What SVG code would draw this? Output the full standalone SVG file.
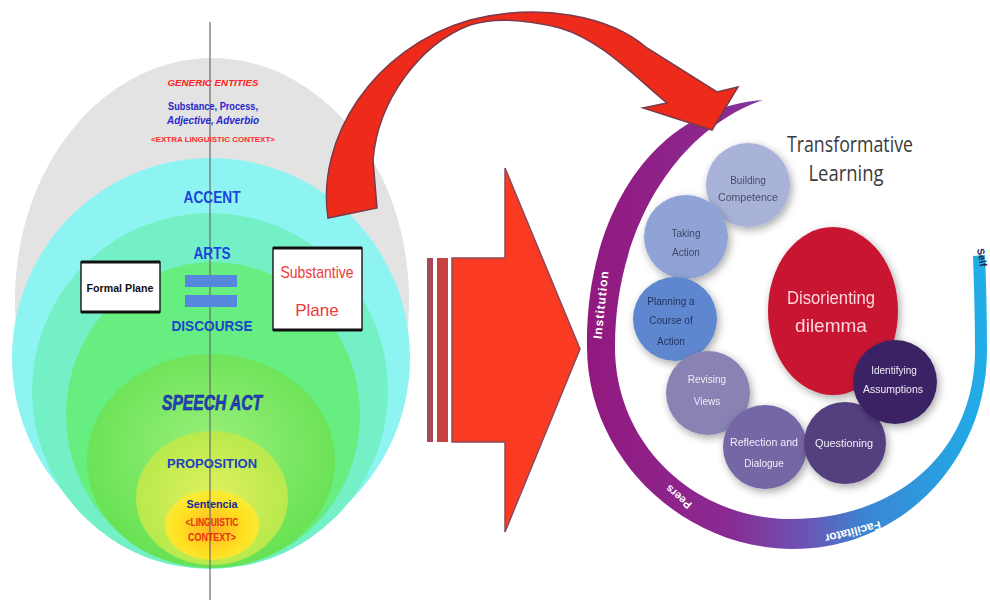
<svg xmlns="http://www.w3.org/2000/svg" width="990" height="601" viewBox="0 0 990 601">
<defs>
  <style>
    .lt{font-family:"Liberation Sans",Arial,sans-serif;font-weight:bold;text-anchor:middle}
    .nd{font-family:"Liberation Sans",Arial,sans-serif;font-size:10px;text-anchor:middle}
    .ring{font-family:"Liberation Sans",Arial,sans-serif;font-weight:bold;fill:#ffffff;text-anchor:middle}
    .box{fill:#ffffff;stroke:#222;stroke-width:1.5}
  </style>
  <radialGradient id="g5" cx="0.5" cy="0.45" r="0.6">
    <stop offset="0" stop-color="#9af07a"/>
    <stop offset="1" stop-color="#62e050"/>
  </radialGradient>
  <radialGradient id="g6" cx="0.5" cy="0.5" r="0.6">
    <stop offset="0" stop-color="#e2f060"/>
    <stop offset="1" stop-color="#b0e848"/>
  </radialGradient>
  <radialGradient id="g7" cx="0.5" cy="0.55" r="0.6">
    <stop offset="0" stop-color="#ffb020"/>
    <stop offset="0.6" stop-color="#ffe020"/>
    <stop offset="1" stop-color="#f4f040"/>
  </radialGradient>
  <linearGradient id="ringg" x1="587" y1="0" x2="987" y2="0" gradientUnits="userSpaceOnUse">
    <stop offset="0" stop-color="#92197e"/>
    <stop offset="0.35" stop-color="#8a2a92"/>
    <stop offset="0.55" stop-color="#6a55b4"/>
    <stop offset="0.7" stop-color="#3a86d4"/>
    <stop offset="1" stop-color="#20aee8"/>
  </linearGradient>
  <filter id="sh" x="-30%" y="-30%" width="160%" height="160%">
    <feGaussianBlur in="SourceAlpha" stdDeviation="4"/>
    <feOffset dx="2" dy="3"/>
    <feComponentTransfer><feFuncA type="linear" slope="0.35"/></feComponentTransfer>
    <feMerge><feMergeNode/><feMergeNode in="SourceGraphic"/></feMerge>
  </filter>
</defs>
<rect x="0" y="0" width="990" height="601" fill="#ffffff"/>

<!-- Left nested ellipses -->
<g id="left-model">
  <ellipse cx="212" cy="300" rx="197" ry="242" fill="#e3e3e3"/>
  <ellipse cx="211" cy="358" rx="199" ry="200" fill="#8ef4f2"/>
  <ellipse cx="210" cy="391" rx="178" ry="178" fill="#74f0c6"/>
  <ellipse cx="213" cy="415" rx="147" ry="153" fill="#66ee80"/>
  <ellipse cx="211" cy="461" rx="124" ry="107" fill="url(#g5)"/>
  <ellipse cx="212" cy="498" rx="76" ry="67" fill="url(#g6)"/>
  <ellipse cx="212" cy="525" rx="47" ry="35" fill="url(#g7)"/>
  <line x1="210" y1="22" x2="210" y2="600" stroke="#6a6a6a" stroke-width="1.2"/>
</g>

<g id="left-labels">
  <text class="lt" x="213" y="86" font-size="9" font-style="italic" fill="#ff2222" textLength="91" lengthAdjust="spacingAndGlyphs">GENERIC ENTITIES</text>
  <text class="lt" x="213" y="110" font-size="10" fill="#2626cc" textLength="90" lengthAdjust="spacingAndGlyphs">Substance, Process,</text>
  <text class="lt" x="213" y="124" font-size="10" font-style="italic" fill="#2626cc" textLength="92" lengthAdjust="spacingAndGlyphs">Adjective, Adverbio</text>
  <text class="lt" x="213" y="142" font-size="8" fill="#ff2a2a" textLength="124" lengthAdjust="spacingAndGlyphs">&lt;EXTRA LINGUISTIC CONTEXT&gt;</text>
  <text class="lt" x="212" y="203" font-size="16" fill="#1a46dd" textLength="57" lengthAdjust="spacingAndGlyphs">ACCENT</text>
  <text class="lt" x="212" y="259" font-size="16" fill="#1a46dd" textLength="37" lengthAdjust="spacingAndGlyphs">ARTS</text>
  <rect x="185" y="275" width="52" height="12" fill="#5588dd"/>
  <rect x="185" y="295" width="52" height="12" fill="#5588dd"/>
  <text class="lt" x="212" y="331" font-size="15" fill="#1a46cc" textLength="81" lengthAdjust="spacingAndGlyphs">DISCOURSE</text>
  <text class="lt" x="212" y="410" font-size="22" font-style="italic" fill="#2244cc" stroke="#112266" stroke-width="0.6" textLength="100" lengthAdjust="spacingAndGlyphs">SPEECH ACT</text>
  <text class="lt" x="212" y="468" font-size="13" fill="#2040c0" textLength="90" lengthAdjust="spacingAndGlyphs">PROPOSITION</text>
  <text class="lt" x="212" y="508" font-size="11" fill="#1a2a99" textLength="51" lengthAdjust="spacingAndGlyphs">Sentencia</text>
  <text class="lt" x="212" y="526" font-size="10" fill="#e83010" textLength="53" lengthAdjust="spacingAndGlyphs">&lt;LINGUISTIC</text>
  <text class="lt" x="212" y="541" font-size="10" fill="#e83010" textLength="48" lengthAdjust="spacingAndGlyphs">CONTEXT&gt;</text>
</g>

<g id="formal-plane">
  <rect class="box" x="81" y="262" width="79" height="50"/>
  <line x1="81" y1="262" x2="160" y2="262" stroke="#111" stroke-width="3"/>
  <line x1="81" y1="312" x2="160" y2="312" stroke="#111" stroke-width="3"/>
  <text class="lt" x="120" y="292" font-size="11" fill="#111" textLength="67" lengthAdjust="spacingAndGlyphs">Formal Plane</text>
</g>

<g id="substantive-plane">
  <rect class="box" x="273" y="248" width="89" height="82"/>
  <line x1="273" y1="248" x2="362" y2="248" stroke="#111" stroke-width="3"/>
  <line x1="273" y1="330" x2="362" y2="330" stroke="#111" stroke-width="3"/>
  <text x="317" y="278" font-family="'Liberation Sans',Arial,sans-serif" font-size="17" fill="#ee3a3a" text-anchor="middle" textLength="73" lengthAdjust="spacingAndGlyphs">Substantive</text>
  <text x="317" y="316" font-family="'Liberation Sans',Arial,sans-serif" font-size="17" fill="#ee3a3a" text-anchor="middle">Plane</text>
</g>

<!-- Right: spiral ring -->
<g id="ring">
  <path d="M763,100 C650,108 585,220 587,347 C587,457 683,549 793,549 C903,549 987,460 987,350 C987,310 986,280 985,255 L973,256 C974,285 975,315 975,350 C975,452 897,519 791,519 C695,519 615,445 615,347 C615,225 680,128 763,100 Z" fill="url(#ringg)"/>
  <text class="ring" font-size="12" letter-spacing="1" transform="translate(605,305) rotate(-84)">Institution</text>
  <text class="ring" font-size="11" transform="translate(681,494) rotate(-140)">Peers</text>
  <text class="ring" font-size="12" fill="#dff2ff" transform="translate(852,528) rotate(166)">Facilitator</text>
  <text x="0" y="0" font-family="'Liberation Sans',Arial,sans-serif" font-weight="bold" font-size="10" fill="#1a2244" transform="translate(977,249) rotate(80)">Self</text>
</g>

<g id="title">
  <text x="850" y="152" font-family="'Open Sans','Liberation Sans',sans-serif" font-size="22" fill="#3a3a3a" text-anchor="middle" textLength="126" lengthAdjust="spacingAndGlyphs">Transformative</text>
  <text x="846" y="181" font-family="'Open Sans','Liberation Sans',sans-serif" font-size="22" fill="#3a3a3a" text-anchor="middle" textLength="75" lengthAdjust="spacingAndGlyphs">Learning</text>
</g>

<g id="building-competence" filter="url(#sh)">
  <circle cx="748" cy="185" r="42" fill="#a9b3da"/>
  <text class="nd" x="748" y="184" fill="#4a4e66">Building</text>
  <text class="nd" x="748" y="201" fill="#4a4e66" textLength="60" lengthAdjust="spacingAndGlyphs">Competence</text>
</g>
<g id="taking-action" filter="url(#sh)">
  <circle cx="686" cy="237" r="42" fill="#8fa3d6"/>
  <text class="nd" x="686" y="237" fill="#3e4766">Taking</text>
  <text class="nd" x="686" y="256" fill="#3e4766">Action</text>
</g>
<g id="planning" filter="url(#sh)">
  <circle cx="675" cy="319" r="42" fill="#5f87cf"/>
  <text class="nd" x="671" y="305" fill="#23335e">Planning a</text>
  <text class="nd" x="671" y="324" fill="#23335e">Course of</text>
  <text class="nd" x="671" y="345" fill="#23335e">Action</text>
</g>
<g id="revising-views" filter="url(#sh)">
  <circle cx="708" cy="393" r="42" fill="#8883b3"/>
  <text class="nd" x="707" y="383" fill="#ececf6">Revising</text>
  <text class="nd" x="707" y="405" fill="#ececf6">Views</text>
</g>
<g id="reflection-dialogue" filter="url(#sh)">
  <circle cx="765" cy="447" r="42" fill="#7566a6"/>
  <text class="nd" x="764" y="446" fill="#f0eef8" textLength="68" lengthAdjust="spacingAndGlyphs">Reflection and</text>
  <text class="nd" x="764" y="467" fill="#f0eef8">Dialogue</text>
</g>
<g id="questioning" filter="url(#sh)">
  <circle cx="845" cy="443" r="41" fill="#55417f"/>
  <text class="nd" x="844" y="447" fill="#f0eef8" textLength="58" lengthAdjust="spacingAndGlyphs">Questioning</text>
</g>
<g id="disorienting-dilemma" filter="url(#sh)">
  <ellipse cx="833" cy="311" rx="65" ry="84" fill="#c81530"/>
  <text x="831" y="304" font-family="'Liberation Sans',Arial,sans-serif" font-size="19" fill="#ffd6dc" text-anchor="middle" textLength="88" lengthAdjust="spacingAndGlyphs">Disorienting</text>
  <text x="831" y="332" font-family="'Liberation Sans',Arial,sans-serif" font-size="19" fill="#ffd6dc" text-anchor="middle">dilemma</text>
</g>
<g id="identifying-assumptions" filter="url(#sh)">
  <circle cx="895" cy="382" r="42" fill="#3b2465"/>
  <text class="nd" x="894" y="374" fill="#eeeaf8">Identifying</text>
  <text class="nd" x="893" y="393" fill="#eeeaf8" textLength="60" lengthAdjust="spacingAndGlyphs">Assumptions</text>
</g>

<!-- Connectors (arrows) -->
<g id="connectors">
  <g id="straight-arrow">
    <rect x="427" y="258" width="6" height="184" fill="#a84a58"/>
    <rect x="437" y="258" width="11" height="184" fill="#c84040"/>
    <path d="M452,258 L505,258 L505,168 L580,349 L505,532 L505,442 L452,442 Z" fill="#fa3a22" stroke="#8a4a58" stroke-width="1.5"/>
  </g>
  <g id="curved-arrow">
    <path d="M328,218 C316,140 372,48 470,20 C540,2 610,16 647,48 L717,92 L738,87 L712,130 L643,108 L667,103 C630,72 600,40 560,28 C520,18 492,18 470,25 C420,44 378,100 373,160 L377,208 Z" fill="#ee2a1a" stroke="#7a3a4a" stroke-width="1.5"/>
  </g>
</g>
</svg>
